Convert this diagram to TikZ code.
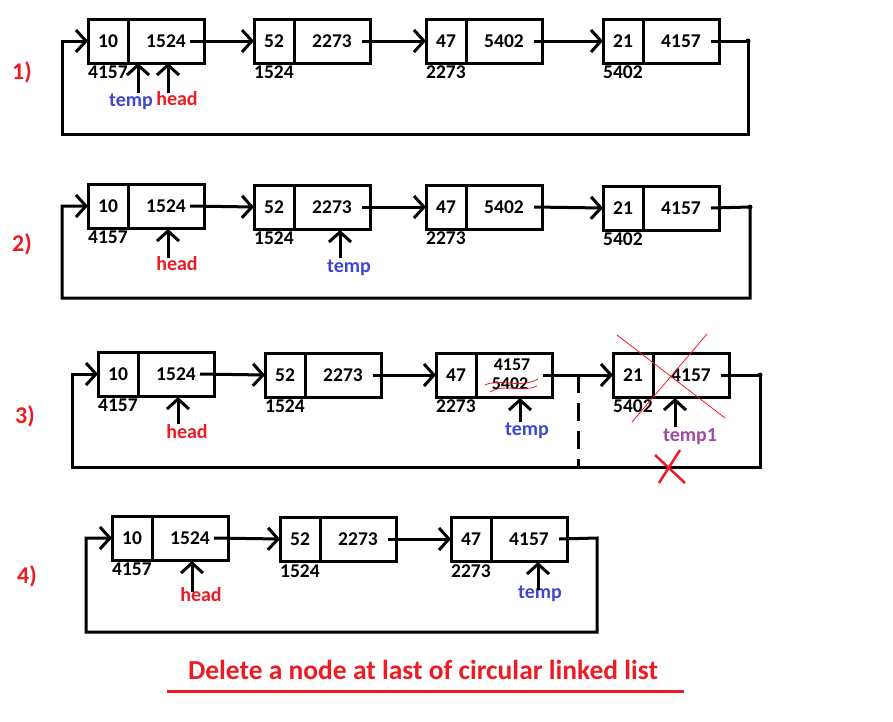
\documentclass[tikz,border=0pt]{standalone}
\usepackage{fontspec}
\setmainfont{Carlito}
\usetikzlibrary{arrows.meta}
\definecolor{pred}{RGB}{237,28,36}
\definecolor{pblue}{RGB}{63,72,204}
\definecolor{ppurple}{RGB}{163,73,164}
\tikzset{
  box/.style={draw, line width=3pt, rectangle, inner sep=0pt, outer sep=0pt,
    minimum height=44pt, font=\fontsize{19.5}{20}\selectfont\bfseries},
  dbox/.style={box, minimum width=40pt, anchor=north west},
  pbox/.style={box, minimum width=76pt, anchor=north west},
  addr/.style={inner sep=0pt, anchor=north west, font=\fontsize{19.5}{20}\selectfont\bfseries},
  lbl/.style={inner sep=0pt, font=\fontsize{20}{21}\selectfont\bfseries},
  steplbl/.style={inner sep=0pt, text=pred, font=\fontsize{24}{25}\selectfont\bfseries},
  link/.style={line width=3pt, -{Straight Barb[length=10pt,width=22pt,line width=3pt]}},
  wire/.style={line width=3pt},
}
\newcommand\listnode[6]{%
  \node[dbox] (#1d) at (#2,#3) {#4};
  \node[pbox] (#1p) at (#1d.north east) {#5};
  \node[addr] (#1a) at ([yshift=-3pt]#1d.south west) {#6};
}
\begin{document}
\begin{tikzpicture}[x=1pt,y=-1pt]
\useasboundingbox (0,0) rectangle (893,721);

% ---------------- Row 1 ----------------
\node[steplbl] (s1) at (22,72) {1)};
\listnode{A1}{88}{19}{10}{1524}{4157}
\listnode{B1}{254}{19}{52}{2273}{1524}
\listnode{C1}{426}{19}{47}{5402}{2273}
\listnode{D1}{603}{19}{21}{4157}{5402}
\draw[link] ([xshift=-14pt]A1p.east) -- (B1d.west);
\draw[link] ([xshift=-8pt]B1p.east) -- (C1d.west);
\draw[link] ([xshift=-8pt]C1p.east) -- (D1d.west);
\coordinate (r1) at (748,41);
\coordinate (bl1) at (62,134);
\draw[link] ([xshift=-8pt]D1p.east) -- (r1) |- (bl1) |- (A1d.west);
\fill (r1) circle (2.5pt);
\node[lbl, text=pblue] (temp1) at (131,102) {temp};
\node[lbl, text=pred] (head1) at (177,99) {head};
\coordinate (t1a) at (138,93); \coordinate (t1b) at (138,63);
\coordinate (h1a) at (168,93); \coordinate (h1b) at (168,63);
\draw[link] (t1a) -- (t1b);
\draw[link] (h1a) -- (h1b);

% ---------------- Row 2 ----------------
\node[steplbl] (s2) at (22,244) {2)};
\listnode{A2}{88}{184}{10}{1524}{4157}
\listnode{B2}{254}{185}{52}{2273}{1524}
\listnode{C2}{426}{185}{47}{5402}{2273}
\listnode{D2}{603}{186}{21}{4157}{5402}
\draw[link] ([xshift=-14pt]A2p.east) -- (B2d.west);
\draw[link] ([xshift=-8pt]B2p.east) -- (C2d.west);
\draw[link] ([xshift=-8pt]C2p.east) -- (D2d.west);
\coordinate (r2) at (750,207);
\coordinate (bl2) at (62,298);
\draw[link] ([xshift=-8pt]D2p.east) -- (r2) |- (bl2) |- (A2d.west);
\fill (r2) circle (2.5pt);
\node[lbl, text=pred] (head2) at (177,264) {head};
\node[lbl, text=pblue] (temp2) at (349,268) {temp};
\coordinate (h2a) at (168,258); \coordinate (h2b) at (168,229);
\coordinate (t2a) at (340,258); \coordinate (t2b) at (340,230);
\draw[link] (h2a) -- (h2b);
\draw[link] (t2a) -- (t2b);

% ---------------- Row 3 ----------------
\node[steplbl] (s3) at (25,416) {3)};
\listnode{A3}{98}{352}{10}{1524}{4157}
\listnode{B3}{265}{353}{52}{2273}{1524}
\listnode{C3}{436}{353}{47}{}{2273}
\listnode{D3}{613}{353}{21}{4157}{5402}
\node[lbl, font=\fontsize{18}{19}\selectfont\bfseries] (c3new) at (512,365) {4157};
\node[lbl, font=\fontsize{18}{19}\selectfont\bfseries] (c3old) at (510,384) {5402};
\draw[pred, line width=0.8pt] (485,385) .. controls (500,378) and (520,389) .. (538,379);
\draw[pred, line width=0.8pt] (490,392) .. controls (505,383) and (522,393) .. (537,386);
\draw[link] ([xshift=-14pt]A3p.east) -- (B3d.west);
\draw[link] ([xshift=-8pt]B3p.east) -- (C3d.west);
\draw[link] ([xshift=-9pt]C3p.east) -- (D3d.west);
\coordinate (r3) at (760,375);
\coordinate (bl3) at (72,467);
\draw[link] ([xshift=-8pt]D3p.east) -- (r3) |- (bl3) |- (A3d.west);
\fill (r3) circle (2.5pt);
\coordinate (dsh1) at (578,375);
\coordinate (dsh2) at (578,467);
\draw[line width=3pt, dash pattern=on 18pt off 10pt] (dsh1) -- (dsh2);
% big thin cross over the deleted node
\coordinate (x1a) at (617,335); \coordinate (x1b) at (725,418);
\coordinate (x2a) at (707,334); \coordinate (x2b) at (632,422);
\draw[pred, line width=0.8pt] (x1a) -- (x1b);
\draw[pred, line width=0.8pt] (x2a) -- (x2b);
% red X on the bottom link
\coordinate (y1a) at (655,455); \coordinate (y1b) at (685,483);
\coordinate (y2a) at (680,450); \coordinate (y2b) at (659,483);
\draw[pred, line width=2.5pt] (y1a) -- (y1b);
\draw[pred, line width=2.5pt] (y2a) -- (y2b);
\node[lbl, text=pred] (head3) at (187,432) {head};
\node[lbl, text=pblue] (temp3) at (527,431) {temp};
\node[lbl, text=ppurple] (tempone3) at (690,437) {temp1};
\coordinate (h3a) at (178,424); \coordinate (h3b) at (178,397);
\coordinate (t3a) at (520,422); \coordinate (t3b) at (520,398);
\coordinate (u3a) at (675,427); \coordinate (u3b) at (675,398);
\draw[link] (h3a) -- (h3b);
\draw[link] (t3a) -- (t3b);
\draw[link] (u3a) -- (u3b);

% ---------------- Row 4 ----------------
\node[steplbl] (s4) at (27,576) {4)};
\listnode{A4}{112}{516}{10}{1524}{4157}
\listnode{B4}{280}{517}{52}{2273}{1524}
\listnode{C4}{451}{517}{47}{4157}{2273}
\draw[link] ([xshift=-14pt]A4p.east) -- (B4d.west);
\draw[link] ([xshift=-8pt]B4p.east) -- (C4d.west);
\coordinate (r4) at (597,538);
\coordinate (bl4) at (86,632);
\draw[link] ([xshift=-8pt]C4p.east) -- (r4) |- (bl4) |- (A4d.west);
\node[lbl, text=pred] (head4) at (201,595) {head};
\node[lbl, text=pblue] (temp4) at (540,594) {temp};
\coordinate (h4a) at (192,592); \coordinate (h4b) at (192,561);
\coordinate (t4a) at (538,590); \coordinate (t4b) at (538,562);
\draw[link] (h4a) -- (h4b);
\draw[link] (t4a) -- (t4b);

% ---------------- Title ----------------
\node[inner sep=0pt, text=pred, font=\fontsize{27.5}{28}\selectfont\bfseries] (title) at (423,670) {Delete a node at last of circular linked list};
\coordinate (ul1) at (167,691); \coordinate (ul2) at (684,691);
\draw[pred, line width=3pt] (ul1) -- (ul2);
\end{tikzpicture}
\end{document}
